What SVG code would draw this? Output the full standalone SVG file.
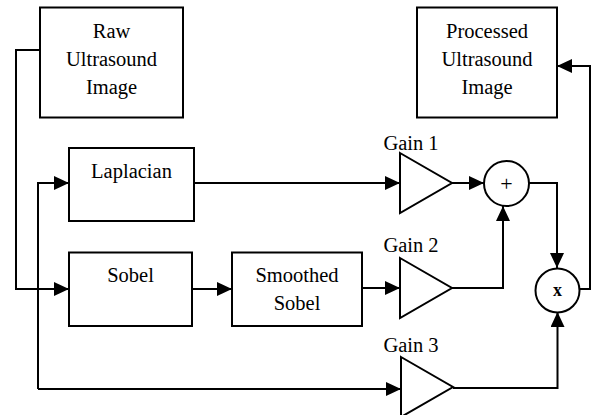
<svg xmlns="http://www.w3.org/2000/svg" width="595" height="415" viewBox="0 0 595 415">
<style>
.box{fill:#fff;stroke:#000;stroke-width:2}
.t{font-size:20.5px;fill:#000;text-anchor:middle}
.c{fill:none;stroke:#000;stroke-width:2}
</style>
<defs>
<marker id="ah" markerUnits="userSpaceOnUse" markerWidth="16" markerHeight="14" refX="15" refY="7" orient="auto">
<path d="M0,0 L15,7 L0,14 Z" fill="#000"/>
</marker>
</defs>
<rect width="595" height="415" fill="#fff"/>
<g id="connectors">
<path class="c" d="M40,50 H16 V289 H69" marker-end="url(#ah)"/>
<path class="c" d="M38,389 V183 H69" marker-end="url(#ah)"/>
<path class="c" d="M38,389 H401" marker-end="url(#ah)"/>
<path class="c" d="M194,183 H400" marker-end="url(#ah)"/>
<path class="c" d="M452,183 H484" marker-end="url(#ah)"/>
<path class="c" d="M529,183 H557 V268" marker-end="url(#ah)"/>
<path class="c" d="M192,289 H232" marker-end="url(#ah)"/>
<path class="c" d="M362,288 H400" marker-end="url(#ah)"/>
<path class="c" d="M452,288 H503 V206" marker-end="url(#ah)"/>
<path class="c" d="M453,388 H557.5 V312" marker-end="url(#ah)"/>
<path class="c" d="M580,289 H590 V66 H557" marker-end="url(#ah)"/>
</g>
<g font-family="Liberation Serif, Times New Roman, serif">
<g id="raw">
<rect class="box" x="40" y="7.5" width="143" height="110"/>
<text class="t" x="111.5" y="38">Raw</text>
<text class="t" x="111.5" y="66">Ultrasound</text>
<text class="t" x="111.5" y="94">Image</text>
</g>
<g id="processed">
<rect class="box" x="417" y="7.5" width="140" height="110"/>
<text class="t" x="487" y="38">Processed</text>
<text class="t" x="487" y="66">Ultrasound</text>
<text class="t" x="487" y="94">Image</text>
</g>
<g id="laplacian">
<rect class="box" x="69" y="148" width="125" height="73"/>
<text class="t" x="131.5" y="178">Laplacian</text>
</g>
<g id="sobel">
<rect class="box" x="69" y="252.5" width="123" height="73.5"/>
<text class="t" x="130.5" y="282">Sobel</text>
</g>
<g id="smoothed">
<rect class="box" x="232" y="252.5" width="130" height="73.5"/>
<text class="t" x="297" y="282">Smoothed</text>
<text class="t" x="297" y="310">Sobel</text>
</g>
<g id="gain1">
<polygon class="box" points="400,153 452,183 400,213"/>
<text class="t" x="411" y="150">Gain 1</text>
</g>
<g id="gain2">
<polygon class="box" points="400,258 452,288 400,318"/>
<text class="t" x="411" y="252">Gain 2</text>
</g>
<g id="gain3">
<polygon class="box" points="401,357 453,387 401,417"/>
<text class="t" x="411" y="352">Gain 3</text>
</g>
<g id="sum">
<circle class="box" cx="506.5" cy="183.5" r="22.5"/>
<text class="t" x="506.5" y="191" style="font-size:22px">+</text>
</g>
<g id="mult">
<circle class="box" cx="557.5" cy="290.5" r="22"/>
<text class="t" x="557.5" y="296" style="font-weight:bold;font-size:18px">x</text>
</g>
</g>
</svg>
